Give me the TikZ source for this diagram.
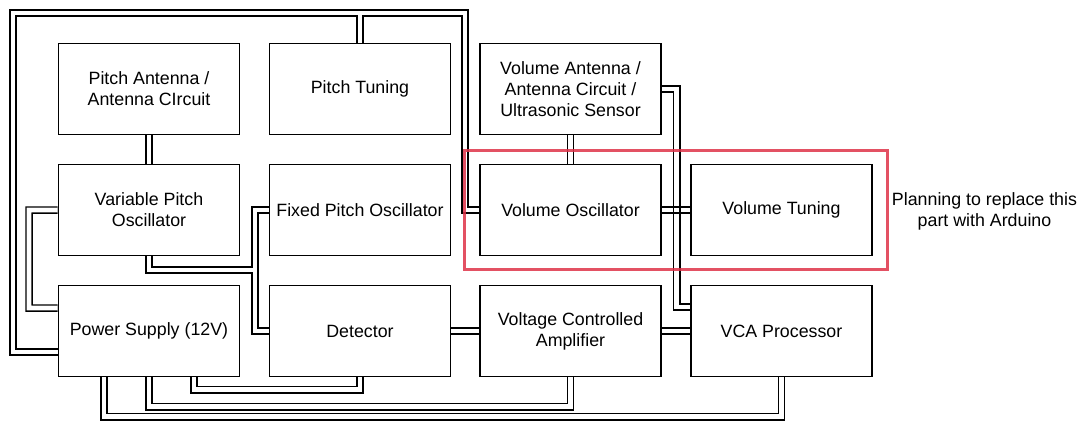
\documentclass[tikz,border=0pt]{standalone}
\usepackage{fontspec}
\setmainfont{Liberation Sans}
\pgfdeclarelayer{wirebg}
\pgfdeclarelayer{wirefg}
\pgfsetlayers{wirebg,wirefg,main}
\definecolor{framered}{RGB}{222,50,72}
\tikzset{
  box/.style={draw=black, line width=1.5bp, fill=white, minimum width=181bp,
    minimum height=91bp, inner sep=2bp, align=center,
    font=\fontsize{17.8bp}{21bp}\selectfont},
  notetext/.style={align=center, inner sep=0pt, font=\fontsize{17.8bp}{21bp}\selectfont},
  wireouter/.style={draw=black, line width=7.5bp, line cap=butt, line join=miter},
  wireinner/.style={draw=white, line width=4.7bp, line cap=butt, line join=miter},
  wireline/.style={draw=black, line width=1.4bp},
  redframe/.style={draw=framered, line width=3bp, opacity=0.85}
}
\newcommand\wire[1]{%
  \begin{pgfonlayer}{wirebg}\draw[wireouter] #1;\end{pgfonlayer}%
  \begin{pgfonlayer}{wirefg}\draw[wireinner] #1;\end{pgfonlayer}}
\begin{document}
\begin{tikzpicture}[x=1bp,y=-1bp]
\useasboundingbox (0,0) rectangle (1083,424);
% boxes
\node[box] (PA)   at (149,89)    {Pitch Antenna /\\Antenna CIrcuit};
\node[box] (PT)   at (360,89)    {Pitch Tuning};
\node[box] (VA)   at (570.5,89)  {Volume Antenna /\\Antenna Circuit /\\Ultrasonic Sensor};
\node[box] (VPO)  at (149,210)   {Variable Pitch\\Oscillator};
\node[box] (FPO)  at (360,210)   {Fixed Pitch Oscillator};
\node[box] (VO)   at (570.5,210) {Volume Oscillator};
\node[box] (VT)   at (781.5,210) {Volume Tuning};
\node[box] (PS)   at (149,331)   {Power Supply (12V)};
\node[box] (Det)  at (360,331)   {Detector};
\node[box] (VCA)  at (570.5,331) {Voltage Controlled\\Amplifier};
\node[box] (VCAP) at (781.5,331) {VCA Processor};
\node[notetext] (note) at (984.5,211) {Planning to replace this\\part with Arduino};
% attachment points
\coordinate (PSw1) at ([yshift=23bp]PS.west);
\coordinate (PSw2) at ([yshift=-21bp]PS.west);
% connectors
\wire{(PA.south) -- (VPO.north)}
\wire{(PT.north) |- (13,13) |- (PSw2)}
\wire{(PSw2) -| (13,13) -| (465,210) -- (VO.west)}
\wire{(VPO.west) -| (29,308) -- (PSw1)}
\wire{(FPO.west) -| (255,331) -- (Det.west)}
\wire{(VPO.south) |- (255,270)}
\wire{([xshift=45bp]PS.south) -- ++(0,12.5) -| (Det.south)}
\wire{(PS.south) -- ++(0,29.5) -| (VCA.south)}
\wire{([xshift=-45bp]PS.south) -- ++(0,39.5) -| (VCAP.south)}
\wire{(Det.east) -- (VCA.west)}
\wire{(VCA.east) -- (VCAP.west)}
\wire{(VA.south) -- (VO.north)}
\wire{(VA.east) -- ++(15,0) |- ([yshift=24bp]VCAP.west)}
\draw[wireline] ([yshift=3bp]VO.east) -- ([yshift=3bp]VT.west);
\draw[wireline] ([yshift=-3bp]VO.east) -- ([yshift=-3bp]VT.west);
% highlight frame
\draw[redframe] (464.5,150) rectangle (887,269);
\end{tikzpicture}
\end{document}
